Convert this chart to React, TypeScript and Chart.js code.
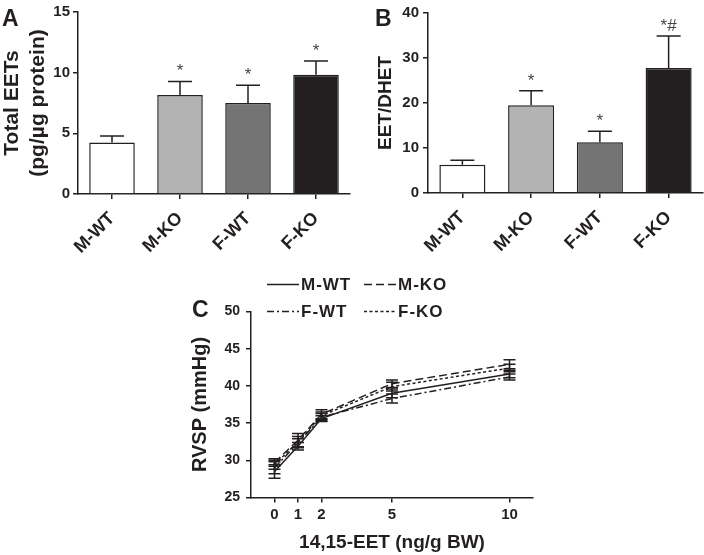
import React, { useEffect, useRef } from 'react';
import { Chart, registerables } from 'chart.js';

Chart.register(...registerables);

// ---------- data ----------
const groups = ['M-WT', 'M-KO', 'F-WT', 'F-KO'];
const groupColors = ['#ffffff', '#b3b3b3', '#747474', '#231f20'];

const totalEets = [4.25, 8.15, 7.5, 9.83];
const totalEetsErr = [0.53, 1.13, 1.46, 1.13];
const totalEetsSig = ['', '*', '*', '*'];

const eetDhet = [6.3, 19.5, 11.3, 27.8];
const eetDhetErr = [1.0, 3.2, 2.4, 7.1];
const eetDhetSig = ['', '*', '*', '*#'];

const doses = [0, 1, 2, 5, 10];
const mwtRvsp = [28.5, 31.9, 35.6, 39.0, 41.6];
const mwtErr = [0.9, 0.5, 0.4, 0.6, 0.5];
const mkoRvsp = [29.7, 32.7, 36.2, 40.3, 42.9];
const mkoErr = [0.5, 0.9, 0.6, 0.5, 0.6];
const fwtRvsp = [29.0, 32.3, 35.8, 38.3, 41.2];
const fwtErr = [0.8, 0.6, 0.5, 0.6, 0.4];
const fkoRvsp = [29.4, 32.5, 36.0, 39.9, 42.4];
const fkoErr = [0.6, 0.7, 0.5, 0.6, 0.5];

const INK = '#231f20';
const FONT = '"Liberation Sans", Arial, sans-serif';

Chart.defaults.font.family = FONT;
Chart.defaults.color = INK;

function letterPlugin(letter: string, x: number, y: number) {
  return {
    id: 'panelLetter' + letter,
    afterDraw(chart: any) {
      const ctx = chart.ctx;
      ctx.save();
      ctx.fillStyle = INK;
      ctx.font = `bold 23px ${FONT}`;
      ctx.textAlign = 'left';
      ctx.textBaseline = 'alphabetic';
      ctx.fillText(letter, x, y);
      ctx.restore();
    },
  };
}

function barErrorPlugin(values: number[], errs: number[], sig: string[]) {
  return {
    id: 'barErrors',
    afterDatasetsDraw(chart: any) {
      const ctx = chart.ctx;
      const meta = chart.getDatasetMeta(0);
      const ys = chart.scales.y;
      ctx.save();
      ctx.strokeStyle = INK;
      ctx.lineWidth = 1.5;
      meta.data.forEach((el: any, i: number) => {
        const yBar = ys.getPixelForValue(values[i]);
        const yTop = ys.getPixelForValue(values[i] + errs[i]);
        ctx.beginPath();
        ctx.moveTo(el.x, yBar);
        ctx.lineTo(el.x, yTop);
        ctx.moveTo(el.x - 12, yTop);
        ctx.lineTo(el.x + 12, yTop);
        ctx.stroke();
        if (sig[i]) {
          ctx.fillStyle = '#444';
          ctx.font = `17px ${FONT}`;
          ctx.textAlign = 'center';
          ctx.textBaseline = 'middle';
          ctx.fillText(sig[i], el.x, yTop - 10);
        }
      });
      ctx.restore();
    },
  };
}

function barConfig(
  values: number[], errs: number[], sig: string[],
  yMax: number, step: number, title: string | string[], titleSize: number, titlePadTop: number,
  axisWidth: number, axisHeight: number, padTop: number, padRight: number,
  letter: string, lx: number, ly: number, tickPad: number
): any {
  return {
    type: 'bar',
    data: {
      labels: groups,
      datasets: [
        {
          data: values,
          backgroundColor: groupColors,
          borderColor: INK,
          borderWidth: 1.5,
          barPercentage: 0.67,
          categoryPercentage: 1,
        },
      ],
    },
    options: {
      responsive: false,
      animation: false,
      devicePixelRatio: 1,
      layout: { padding: { top: padTop, right: padRight, left: 0, bottom: 0 } },
      plugins: { legend: { display: false }, tooltip: { enabled: false } },
      scales: {
        x: {
          type: 'category',
          offset: true,
          grid: { display: true, drawOnChartArea: false, drawTicks: true, tickLength: 5, offset: false, color: INK, lineWidth: 1.5 },
          border: { display: true, color: INK, width: 1.5 },
          ticks: { color: INK, font: { size: 18, weight: 'bold' }, minRotation: 45, maxRotation: 45, padding: 9, autoSkip: false },
          afterFit: (s: any) => { s.height = axisHeight; },
        },
        y: {
          min: 0,
          max: yMax,
          grid: { display: true, drawOnChartArea: false, drawTicks: true, tickLength: 5, color: INK, lineWidth: 1.5 },
          border: { display: true, color: INK, width: 1.5 },
          ticks: { stepSize: step, color: INK, font: { size: 15, weight: 'bold' }, padding: tickPad },
          title: { display: true, text: title, color: INK, font: { size: titleSize, weight: 'bold' }, padding: { top: titlePadTop, bottom: 0 } },
          afterFit: (s: any) => { s.width = axisWidth; },
        },
      },
    },
    plugins: [barErrorPlugin(values, errs, sig), letterPlugin(letter, lx, ly)],
  };
}

const lineSeries = [
  { label: 'M-WT', values: mwtRvsp, errs: mwtErr, dash: [] as number[] },
  { label: 'M-KO', values: mkoRvsp, errs: mkoErr, dash: [8, 4] },
  { label: 'F-WT', values: fwtRvsp, errs: fwtErr, dash: [7, 3, 2, 3] },
  { label: 'F-KO', values: fkoRvsp, errs: fkoErr, dash: [3, 2.5] },
];

const lineErrorPlugin = {
  id: 'lineErrors',
  afterDatasetsDraw(chart: any) {
    const ctx = chart.ctx;
    const xs = chart.scales.x;
    const ys = chart.scales.y;
    ctx.save();
    ctx.strokeStyle = INK;
    ctx.lineWidth = 1.5;
    ctx.setLineDash([]);
    lineSeries.forEach((s) => {
      s.values.forEach((v, i) => {
        const x = xs.getPixelForValue(doses[i]);
        const y1 = ys.getPixelForValue(v - s.errs[i]);
        const y2 = ys.getPixelForValue(v + s.errs[i]);
        ctx.beginPath();
        ctx.moveTo(x, y1);
        ctx.lineTo(x, y2);
        ctx.moveTo(x - 6, y1);
        ctx.lineTo(x + 6, y1);
        ctx.moveTo(x - 6, y2);
        ctx.lineTo(x + 6, y2);
        ctx.stroke();
      });
    });
    ctx.restore();
  },
};

const lineLegendPlugin = {
  id: 'lineLegend',
  afterDraw(chart: any) {
    const ctx = chart.ctx;
    const { left, top } = chart.chartArea;
    const cols = [left + 16, left + 113];
    const rows = [top - 27, top];
    ctx.save();
    ctx.strokeStyle = INK;
    ctx.fillStyle = INK;
    ctx.lineWidth = 1.5;
    ctx.font = `bold 17px ${FONT}`;
    ctx.textAlign = 'left';
    ctx.textBaseline = 'middle';
    try { (ctx as any).letterSpacing = '1px'; } catch (e) {}
    lineSeries.forEach((s, i) => {
      const x = cols[i % 2];
      const y = rows[Math.floor(i / 2)];
      ctx.setLineDash(s.dash);
      ctx.beginPath();
      ctx.moveTo(x, y);
      ctx.lineTo(x + 32, y);
      ctx.stroke();
      ctx.setLineDash([]);
      ctx.fillText(s.label, x + 34, y + 1);
    });
    ctx.restore();
  },
};

function lineConfig(): any {
  return {
    type: 'line',
    data: {
      datasets: lineSeries.map((s) => ({
        label: s.label,
        data: doses.map((d, i) => ({ x: d, y: s.values[i] })),
        borderColor: INK,
        borderWidth: 1.5,
        borderDash: s.dash,
        pointRadius: 0,
        fill: false,
        tension: 0,
      })),
    },
    options: {
      responsive: false,
      animation: false,
      devicePixelRatio: 1,
      layout: { padding: { top: 41.5, right: 17, left: 0, bottom: 0 } },
      plugins: { legend: { display: false }, tooltip: { enabled: false } },
      scales: {
        x: {
          type: 'linear',
          min: -1,
          max: 11,
          afterBuildTicks: (s: any) => { s.ticks = doses.map((v) => ({ value: v })); },
          grid: { display: true, drawOnChartArea: false, drawTicks: true, tickLength: 5, color: INK, lineWidth: 1.5 },
          border: { display: true, color: INK, width: 1.5 },
          ticks: { color: INK, font: { size: 15, weight: 'bold' }, padding: 3, autoSkip: false, maxRotation: 0 },
          title: { display: true, text: '14,15-EET (ng/g BW)', color: INK, font: { size: 19, weight: 'bold' }, padding: { top: 0, bottom: 1 } },
          afterFit: (s: any) => { s.height = 57.5; },
        },
        y: {
          min: 25,
          max: 50,
          grid: { display: true, drawOnChartArea: false, drawTicks: true, tickLength: 5, color: INK, lineWidth: 1.5 },
          border: { display: true, color: INK, width: 1.5 },
          ticks: { stepSize: 5, color: INK, font: { size: 14, weight: 'bold' }, padding: 6 },
          title: { display: true, text: 'RVSP (mmHg)', color: INK, font: { size: 20, weight: 'bold' }, padding: { top: 8, bottom: 0 } },
          afterFit: (s: any) => { s.width = 71; },
        },
      },
    },
    plugins: [lineErrorPlugin, lineLegendPlugin, letterPlugin('C', 12, 47)],
  };
}

export default function App() {
  const aRef = useRef<HTMLCanvasElement>(null);
  const bRef = useRef<HTMLCanvasElement>(null);
  const cRef = useRef<HTMLCanvasElement>(null);

  useEffect(() => {
    const charts: Chart[] = [];
    if (aRef.current) {
      charts.push(new Chart(aRef.current, barConfig(
        totalEets, totalEetsErr, totalEetsSig, 15, 5,
        ['Total EETs', '(pg/µg protein)'], 21, 0,
        78, 76, 12, 2, 'A', 2, 26, 3
      )));
    }
    if (bRef.current) {
      charts.push(new Chart(bRef.current, barConfig(
        eetDhet, eetDhetErr, eetDhetSig, 40, 10,
        'EET/DHET', 19, 22,
        76, 77, 10, 1, 'B', 23, 26, 4
      )));
    }
    if (cRef.current) {
      charts.push(new Chart(cRef.current, lineConfig()));
    }
    return () => { charts.forEach((c) => c.destroy()); };
  }, []);

  return (
    <div style={{ position: 'absolute', left: 0, top: 0, width: 704, height: 555, background: '#fff', overflow: 'hidden' }}>
      <canvas ref={aRef} width={352} height={270} style={{ position: 'absolute', left: 0, top: 0, width: 352, height: 270 }} />
      <canvas ref={bRef} width={352} height={270} style={{ position: 'absolute', left: 352, top: 0, width: 352, height: 270 }} />
      <canvas ref={cRef} width={370} height={285} style={{ position: 'absolute', left: 180, top: 270, width: 370, height: 285 }} />
    </div>
  );
}
